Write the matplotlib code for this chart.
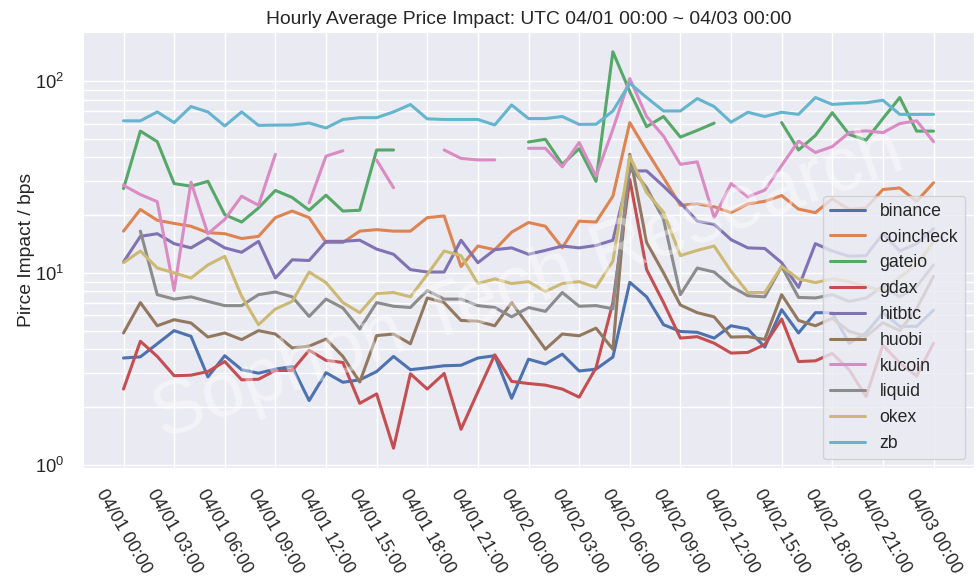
import numpy as np
import pandas as pd
import matplotlib
matplotlib.use("Agg")
import matplotlib.pyplot as plt
import matplotlib.dates as mdates
import seaborn as sns

nan = np.nan

# hourly timestamps, UTC 04/01 00:00 .. 04/03 00:00
hours = pd.date_range("2018-04-01 00:00", "2018-04-03 00:00", freq="h")

exchanges = ["binance", "coincheck", "gateio", "gdax", "hitbtc",
             "huobi", "kucoin", "liquid", "okex", "zb"]

binance = [3.6, 3.65, 4.27, 5.0, 4.67, 2.87, 3.7, 3.13, 3.0, 3.15, 3.25, 2.16, 3.02,
           2.69, 2.77, 3.06, 3.67, 3.13, 3.2, 3.28, 3.3, 3.6, 3.7, 2.22, 3.55, 3.35,
           3.77, 3.08, 3.15, 3.64, 8.93, 7.5, 5.37, 4.95, 4.9, 4.57, 5.3, 5.1, 4.1,
           6.43, 4.86, 6.2, 6.2, 4.3, 4.86, 6.2, 5.26, 5.26, 6.4]
coincheck = [16.5, 21.4, 18.8, 18.1, 17.5, 16.2, 16.0, 15.1, 15.5, 19.4, 21.0, 19.4, 14.4,
             14.4, 16.5, 16.8, 16.5, 16.5, 19.4, 19.8, 10.8, 13.8, 13.2, 16.3, 18.3, 17.5,
             13.5, 18.6, 18.4, 25.1, 60.7, 43.2, 31.3, 22.5, 22.9, 22.1, 20.6, 22.9, 23.6,
             25.3, 21.5, 20.6, 24.3, 21.4, 21.8, 27.2, 27.7, 23.6, 29.5]
gateio = [27.5, 54.8, 48.3, 29.2, 28.3, 30.0, 20.1, 18.4, 21.8, 26.9, 24.7, 21.2, 25.4,
          21.0, 21.2, 43.7, 43.7, nan, nan, nan, nan, nan, nan, nan, 48.1, 49.7,
          36.8, 44.4, 30.0, 142.0, 88.0, 57.8, 65.3, 51.0, 55.3, 60.3, nan, nan, nan,
          60.7, 43.7, 52.0, 68.4, 52.7, 49.2, 63.7, 82.0, 54.8, 54.8]
gdax = [2.48, 4.4, 3.67, 2.91, 2.93, 3.06, 3.45, 2.77, 2.79, 3.1, 3.1, 3.95, 3.5,
        3.41, 2.09, 2.34, 1.22, 2.98, 2.48, 2.99, 1.53, 2.4, 3.74, 2.72, 2.65, 2.6,
        2.48, 2.25, 3.2, 7.0, 30.7, 10.4, 7.0, 4.57, 4.65, 4.3, 3.82, 3.85, 4.23,
        5.75, 3.45, 3.48, 3.8, 3.13, 2.27, 4.2, 3.39, 2.9, 4.3]
hitbtc = [11.4, 15.5, 16.0, 14.2, 13.5, 15.2, 13.5, 12.8, 14.6, 9.4, 11.7, 11.6, 14.6,
          14.6, 14.8, 13.3, 12.5, 10.4, 10.1, 10.1, 14.8, 11.3, 13.2, 13.5, 12.5, 13.1,
          13.8, 13.5, 13.9, 14.8, 34.0, 34.0, 28.3, 23.2, 18.6, 17.9, 14.9, 13.5, 13.4,
          11.3, 8.4, 14.2, 13.0, 12.2, 12.3, 16.0, 13.0, 14.2, 17.0]
huobi = [4.86, 7.0, 5.3, 5.7, 5.48, 4.63, 4.86, 4.49, 5.0, 4.8, 4.06, 4.15, 4.52,
         3.67, 2.7, 4.71, 4.8, 4.27, 7.4, 7.0, 5.65, 5.6, 5.3, 7.0, 5.3, 4.0,
         4.8, 4.7, 5.15, 4.0, 41.5, 14.4, 10.0, 6.8, 6.2, 5.9, 4.63, 4.65, 4.5,
         7.7, 5.65, 5.3, 5.8, 4.96, 4.67, 5.5, 5.0, 6.5, 9.6]
kucoin = [28.6, 25.6, 23.5, 8.1, 29.7, 16.0, 19.0, 25.1, 22.5, 41.5, nan, 23.2, 40.6,
          43.3, nan, 38.7, 27.8, nan, nan, 43.7, 39.5, 38.8, 38.8, nan, 44.6, 44.6,
          35.7, 47.8, 31.9, 56.0, 103.0, 65.3, 51.6, 36.8, 37.9, 19.4, 29.2, 24.9, 27.0,
          36.3, 48.6, 42.4, 45.5, 53.8, 55.0, 53.8, 60.0, 62.0, 48.3]
liquid = [nan, 16.5, 7.7, 7.3, 7.5, 7.1, 6.75, 6.75, 7.7, 7.95, 7.5, 5.93, 7.3,
          6.56, 5.1, 7.0, 6.7, 6.6, 8.1, 7.3, 7.3, 6.75, 6.6, 5.9, 6.6, 6.3,
          7.9, 6.7, 6.75, 6.5, 36.0, 27.8, 19.0, 7.7, 10.6, 10.1, 8.5, 7.6, 7.5,
          10.8, 7.45, 7.4, 7.7, 7.1, 7.4, 8.5, 7.5, 8.5, 11.0]
okex = [11.3, 13.0, 10.6, 10.0, 9.4, 11.0, 12.2, 7.55, 5.37, 6.48, 7.1, 10.1, 8.9,
        7.0, 6.2, 7.8, 7.9, 7.5, 9.8, 13.0, 12.3, 8.8, 9.3, 8.8, 9.0, 8.0,
        8.8, 9.0, 8.4, 11.5, 40.6, 26.2, 20.7, 12.3, 13.1, 13.8, 10.2, 7.9, 7.9,
        10.8, 9.3, 8.9, 9.3, 9.0, 8.5, 8.0, 9.5, 11.0, 14.5]
zb = [62.0, 62.0, 69.0, 60.7, 73.6, 69.0, 58.3, 69.0, 58.7, 58.9, 59.0, 60.4, 56.9,
      63.0, 64.4, 64.4, 69.0, 75.4, 63.5, 63.0, 63.0, 63.0, 59.0, 75.0, 63.7, 63.7,
      65.3, 59.4, 59.5, 69.8, 97.3, 82.0, 69.8, 69.8, 81.0, 73.6, 61.0, 68.7, 65.3,
      68.7, 67.0, 82.0, 75.5, 76.5, 77.0, 79.4, 67.0, 67.0, 67.0]

series = [binance, coincheck, gateio, gdax, hitbtc, huobi, kucoin, liquid, okex, zb]
df = pd.DataFrame(dict(zip(exchanges, series)), index=hours)

sns.set_style("darkgrid")
plt.rcParams["font.family"] = ["Liberation Sans", "DejaVu Sans"]
fs = 12.7
palette = sns.color_palette("deep", 10)

fig, ax = plt.subplots(figsize=(9.8, 5.81), dpi=100)
fig.subplots_adjust(left=0.0847, right=0.9939, top=0.945, bottom=0.1945)

for name, color in zip(exchanges, palette):
    ax.plot(df.index, df[name], label=name, color=color, linewidth=2.2)

ax.set_yscale("log")
ax.grid(True, which="both", color="white", linewidth=1.0)

ax.xaxis.set_major_locator(mdates.HourLocator(byhour=range(0, 24, 3)))
ax.xaxis.set_major_formatter(mdates.DateFormatter("%m/%d %H:%M"))
ax.tick_params(axis="x", which="both", labelsize=fs, pad=10)
ax.tick_params(axis="y", which="both", labelsize=13.2, pad=10)
plt.setp(ax.get_xticklabels(), rotation=-60, ha="center")

ax.set_ylabel("Pirce Impact / bps", fontsize=13.9, labelpad=0)
ax.set_title("Hourly Average Price Impact: UTC 04/01 00:00 ~ 04/03 00:00", fontsize=13.9)

ax.legend(loc="lower right", fontsize=fs)

ax.text(0.5, 0.42, "Sophon Tech Research", transform=ax.transAxes,
        fontsize=55, color="white", alpha=0.4, rotation=20,
        ha="center", va="center", zorder=10)

plt.savefig("out.png")
